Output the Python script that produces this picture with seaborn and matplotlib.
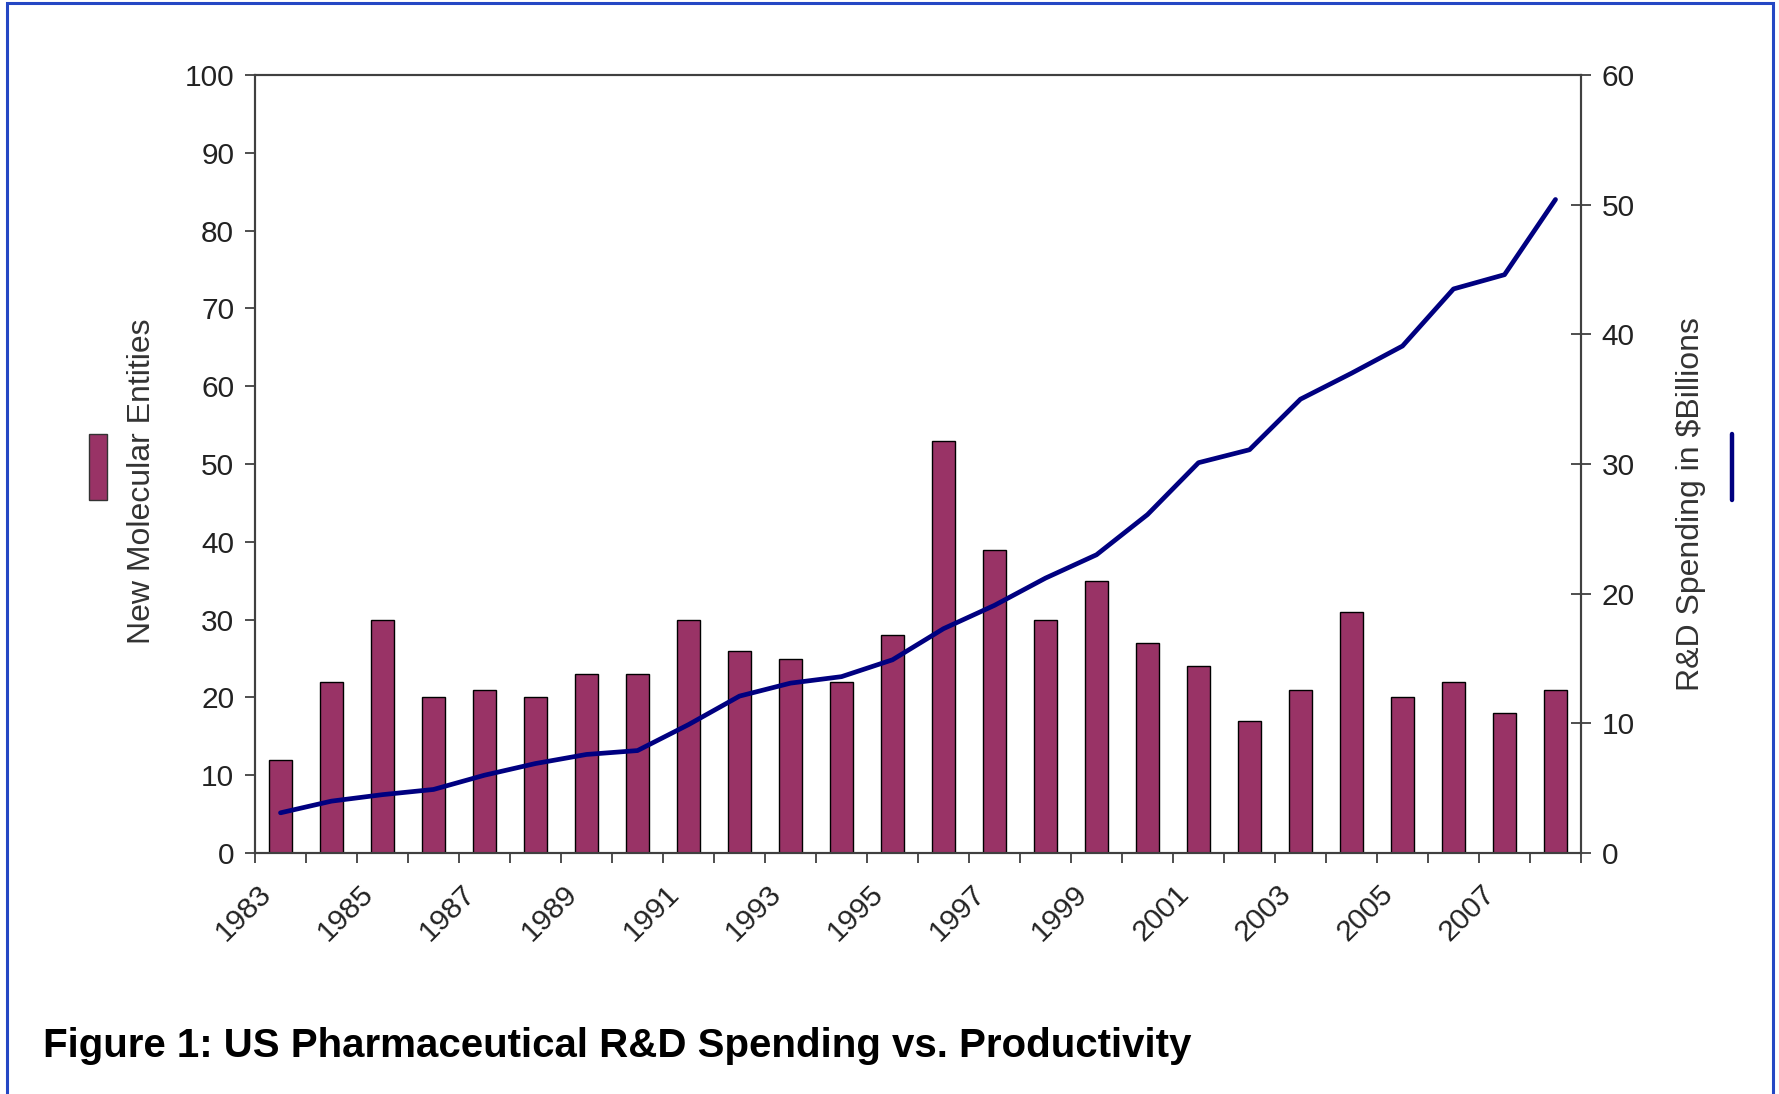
import numpy as np
import pandas as pd
import matplotlib
matplotlib.use("Agg")
import matplotlib.pyplot as plt
import seaborn as sns
from matplotlib.patches import Rectangle
from matplotlib.lines import Line2D
from matplotlib.transforms import ScaledTranslation

# ---- data ----
years = [str(y) for y in range(1983, 2009)]
nme_counts = [12, 22, 30, 20, 21, 20, 23, 23, 30, 26, 25, 22, 28,
              53, 39, 30, 35, 27, 24, 17, 21, 31, 20, 22, 18, 21]
rd_spending = [3.1, 4.0, 4.5, 4.9, 6.0, 6.9, 7.6, 7.9, 9.9, 12.1, 13.1, 13.6, 14.9,
               17.3, 19.1, 21.2, 23.0, 26.1, 30.1, 31.1, 35.0, 37.0, 39.1, 43.5, 44.6, 50.4]
left_ticks = list(range(0, 101, 10))
right_ticks = list(range(0, 61, 10))
title = "Figure 1: US Pharmaceutical R&D Spending vs. Productivity"
left_label = "New Molecular Entities"
right_label = "R&D Spending in $Billions"

df = pd.DataFrame({"year": years, "nme": nme_counts, "rd": rd_spending,
                   "pos": np.arange(len(years))})

sns.set_style("white")
plt.rcParams["font.family"] = ["Liberation Sans", "DejaVu Sans"]

W, H = 1779, 1094
fig = plt.figure(figsize=(W / 100, H / 100), dpi=100)
L, R, T, B = 255, 1581, 75, 853
ax = fig.add_axes([L / W, 1 - B / H, (R - L) / W, (B - T) / H])

bar_color = "#993366"
line_color = "#000080"
axis_color = "#404040"
text_color = "#222222"

sns.barplot(data=df, x="year", y="nme", ax=ax, color=bar_color, width=0.46,
            edgecolor="black", linewidth=1.0, saturation=1)
ax.set_ylim(0, 100)
ax.set_yticks(left_ticks)
ax.set_xlim(-0.5, len(years) - 0.5)

ax2 = ax.twinx()
sns.lineplot(data=df, x="pos", y="rd", ax=ax2, color=line_color, linewidth=3.4)
ax2.set_ylim(0, 60)
ax2.set_yticks(right_ticks)
ax2.set_xlim(-0.5, len(years) - 0.5)

# x ticks: marks at category boundaries, labels every other year
ax.set_xticks(np.arange(-0.5, len(years), 1.0))
ax.set_xticklabels([])
ax.set_xticks(np.arange(0, len(years), 2), minor=True)
ax.set_xticklabels(years[::2], minor=True)
ax.tick_params(axis="x", which="major", direction="out", length=7, width=1.3,
               color=axis_color, bottom=True)
ax.tick_params(axis="x", which="minor", length=0, pad=26, labelsize=21.5,
               labelcolor=text_color, bottom=True)
offset = ScaledTranslation(-0.14, 0, fig.dpi_scale_trans)
for lab in ax.get_xticklabels(minor=True):
    lab.set_rotation(45)
    lab.set_ha("right")
    lab.set_va("center")
    lab.set_rotation_mode("anchor")
    lab.set_transform(lab.get_transform() + offset)

ax.tick_params(axis="y", direction="out", length=7, width=1.3, color=axis_color,
               labelsize=21.5, labelcolor=text_color, pad=8, left=True)
ax2.tick_params(axis="y", direction="inout", length=14, width=1.3, color=axis_color,
                labelsize=21.5, labelcolor=text_color, pad=8, right=True)

for a in (ax, ax2):
    for s in a.spines.values():
        s.set_color(axis_color)
        s.set_linewidth(1.5)
        s.set_visible(True)
    a.grid(False)

ax.set_xlabel("")
ax.set_ylabel(left_label, fontsize=23, color="#333333")
ax.yaxis.set_label_coords((157 - L) / (R - L), (B - 481) / (B - T))
ax2.set_xlabel("")
ax2.set_ylabel(right_label, fontsize=23, color="#333333", rotation=90)
ax2.yaxis.set_label_coords((1676 - L) / (R - L), (B - 504) / (B - T))

# legend keys next to axis titles
fig.patches.append(Rectangle((89 / W, 1 - 500 / H), 18 / W, 66 / H,
                             transform=fig.transFigure, facecolor=bar_color,
                             edgecolor="#333333", linewidth=1.0))
fig.lines.append(Line2D([1732 / W, 1732 / W], [1 - 434 / H, 1 - 500 / H],
                        transform=fig.transFigure, color=line_color, linewidth=3.2))

fig.text(43 / W, 1 - 1046 / H, title, fontsize=29, fontweight="bold",
         color="black", ha="left", va="center")

# blue frame around the figure
fig.patches.append(Rectangle((7 / W, -0.05), (1773 - 7) / W, 1 - 3 / H + 0.05,
                             transform=fig.transFigure, facecolor="none",
                             edgecolor="#2447c4", linewidth=2.2, clip_on=False))

fig.savefig("out.png", dpi=100, facecolor="white")
